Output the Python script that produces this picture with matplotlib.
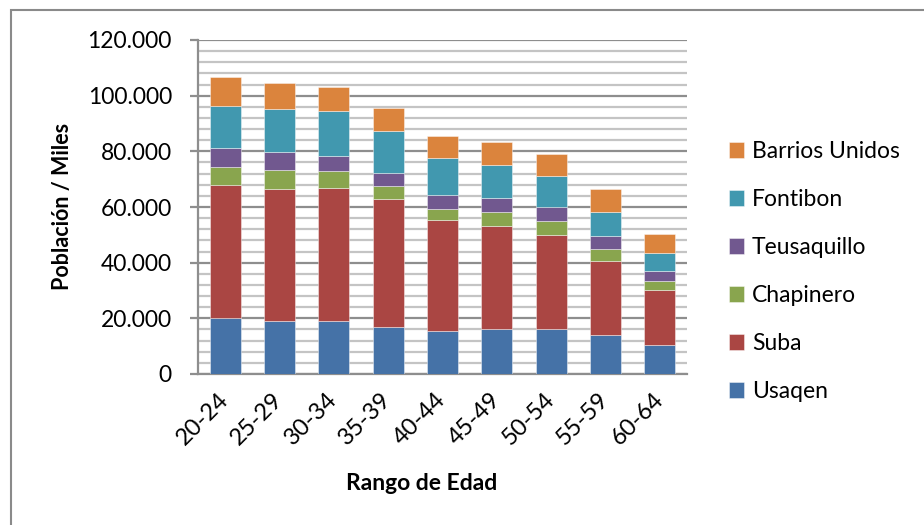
import matplotlib
matplotlib.use("Agg")
import matplotlib.pyplot as plt
import numpy as np
from matplotlib.ticker import MultipleLocator, FuncFormatter
from matplotlib.patches import Rectangle

plt.rcParams['font.family'] = ['Lato', 'DejaVu Sans']

# Age ranges and population per locality (people)
age_ranges = ["20-24", "25-29", "30-34", "35-39", "40-44", "45-49", "50-54", "55-59", "60-64"]
usaqen = [20000, 19160, 18920, 17000, 15450, 16050, 16290, 13890, 10540]
suba = [47780, 47430, 48020, 45750, 40000, 37250, 33770, 26710, 19760]
chapinero = [6710, 6590, 5870, 4670, 3830, 4790, 4790, 4310, 2990]
teusaquillo = [6710, 6470, 5630, 4910, 5150, 5150, 5270, 4790, 3590]
fontibon = [15210, 15570, 16170, 15090, 13170, 11860, 10900, 8620, 6710]
barrios_unidos = [10420, 9220, 8500, 8020, 7900, 8380, 8020, 8140, 6710]

series = [
    ("Usaqen", usaqen, "#4572A7"),
    ("Suba", suba, "#AA4643"),
    ("Chapinero", chapinero, "#89A54E"),
    ("Teusaquillo", teusaquillo, "#71588F"),
    ("Fontibon", fontibon, "#4198AF"),
    ("Barrios Unidos", barrios_unidos, "#DB843D"),
]

W, H = 924, 525
fig = plt.figure(figsize=(W / 100, H / 100), dpi=100)
ax = fig.add_axes([198 / W, 1 - 374 / H, (687 - 198) / W, (374 - 40) / H])

x = np.arange(len(age_ranges))
bottom = np.zeros(len(age_ranges))
handles = []
for name, vals, color in series:
    vals = np.array(vals, dtype=float)
    b = ax.bar(x, vals, width=0.57, bottom=bottom, color=color, label=name,
               edgecolor=(1, 1, 1, 0.5), linewidth=0.6, zorder=3)
    handles.append(b)
    bottom += vals

ax.set_xlim(-0.5, len(age_ranges) - 0.5)
ax.set_ylim(0, 120000)
ax.yaxis.set_major_locator(MultipleLocator(20000))
ax.yaxis.set_minor_locator(MultipleLocator(4000))
ax.yaxis.set_major_formatter(FuncFormatter(lambda v, p: "0" if v == 0 else f"{int(v):,}".replace(",", ".")))

ax.grid(axis="y", which="minor", color="#c4c4c4", linewidth=1.6, zorder=0)
ax.grid(axis="y", which="major", color="#8e8e8e", linewidth=1.6, zorder=1)
ax.set_axisbelow(True)

for s in ["top", "right"]:
    ax.spines[s].set_visible(False)
for s in ["left", "bottom"]:
    ax.spines[s].set_color("#8e8e8e")
    ax.spines[s].set_linewidth(1.6)

ax.tick_params(axis="y", which="major", length=5.8, width=1.6, color="#8e8e8e",
               pad=13, labelsize=16.5, labelcolor="black")
ax.tick_params(axis="y", which="minor", length=0)
ax.tick_params(axis="x", length=0, pad=16, labelsize=17)
ax.set_xticks(x)
ax.set_xticklabels(age_ranges, rotation=45, ha="right", va="center", rotation_mode="anchor")

ax.set_xlabel("Rango de Edad", fontsize=16.5, fontweight="bold", va="center")
ax.xaxis.set_label_coords((422 - 198) / 489, (374 - 483) / 334)
ax.set_ylabel("Población / Miles", fontsize=15.5, fontweight="bold", va="center")
ax.yaxis.set_label_coords((63 - 198) / 489, (374 - 206) / 334)

fig.legend(handles[::-1], [s[0] for s in series][::-1], loc="center left",
           bbox_to_anchor=(729 / W, 1 - 271.5 / H), frameon=False, fontsize=16.5,
           handlelength=0.655, handleheight=0.655, handletextpad=0.35,
           labelspacing=1.18, borderpad=0, borderaxespad=0)

# chart frame
fig.add_artist(Rectangle((11 / W, -0.5), 2.0, 1.5 - 10 / H, transform=fig.transFigure,
                         fill=False, edgecolor="#8a8a8a", linewidth=1.5))

fig.savefig("out.png", dpi=100)
